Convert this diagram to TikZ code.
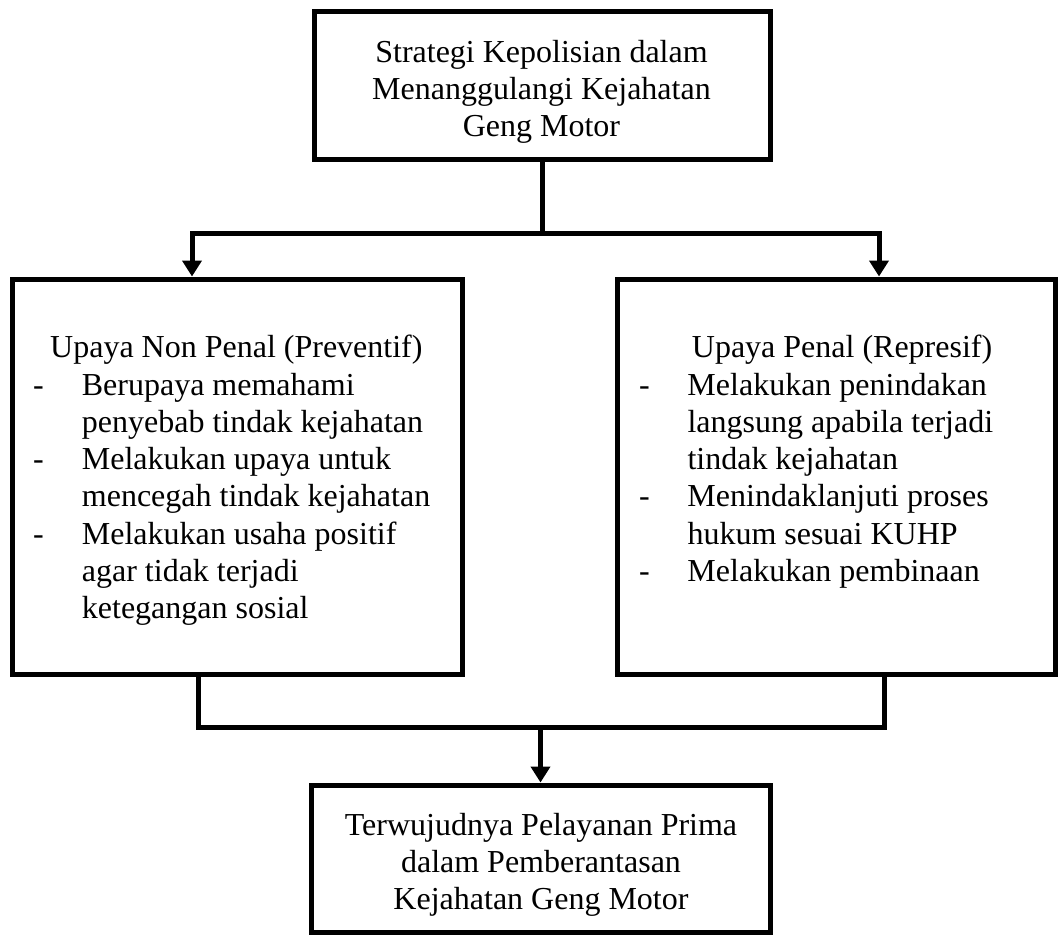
\documentclass[tikz,border=0pt]{standalone}
\usepackage{fontspec}
\setmainfont{Liberation Serif}
\usetikzlibrary{arrows.meta}
\newcommand\mystrut{\rule{0pt}{25pt}}
\begin{document}
\begin{tikzpicture}[x=1pt,y=-1pt,
  box/.style={draw=black,line width=5pt,rectangle,inner sep=0pt,fill=none},
  txt/.style={inner sep=0pt,font=\fontsize{32}{37.3}\selectfont},
  conn/.style={line width=5pt,draw=black},
  arr/.style={conn,-{Triangle[width=19pt,length=16pt]}},
  arrboth/.style={conn,{Triangle[width=19pt,length=16pt]}-{Triangle[width=19pt,length=16pt]}}]
\useasboundingbox (0,0) rectangle (1059,934);
\fill[white] (0,0) rectangle (1059,934);

% boxes
\node[box,minimum width=456pt,minimum height=147pt] (top) at (542,85.5) {};
\node[box,minimum width=450pt,minimum height=395pt] (left) at (237,476.5) {};
\node[box,minimum width=438pt,minimum height=395pt] (right) at (836,476.5) {};
\node[box,minimum width=459pt,minimum height=147pt] (bot) at (540.5,858.5) {};

% texts
\node[txt,align=center,anchor=north] (ttop) at (541.5,37) {\mystrut Strategi Kepolisian dalam\\Menanggulangi Kejahatan\\Geng Motor};
\node[txt,align=left,anchor=north west] (tleft) at (33,332.5) {\mystrut\hspace*{17pt}Upaya Non Penal (Preventif)\\
\makebox[48.7pt][l]{-}Berupaya memahami\\
\hspace*{48.7pt}penyebab tindak kejahatan\\
\makebox[48.7pt][l]{-}Melakukan upaya untuk\\
\hspace*{48.7pt}mencegah tindak kejahatan\\
\makebox[48.7pt][l]{-}Melakukan usaha positif\\
\hspace*{48.7pt}agar tidak terjadi\\
\hspace*{48.7pt}ketegangan sosial};
\node[txt,align=left,anchor=north west] (tright) at (639,332.5) {\mystrut\hspace*{52.7pt}Upaya Penal (Represif)\\
\makebox[48.3pt][l]{-}Melakukan penindakan\\
\hspace*{48.3pt}langsung apabila terjadi\\
\hspace*{48.3pt}tindak kejahatan\\
\makebox[48.3pt][l]{-}Menindaklanjuti proses\\
\hspace*{48.3pt}hukum sesuai KUHP\\
\makebox[48.3pt][l]{-}Melakukan pembinaan};
\node[txt,align=center,anchor=north] (tbot) at (541,810) {\mystrut Terwujudnya Pelayanan Prima\\dalam Pemberantasan\\Kejahatan Geng Motor};

% connectors
\coordinate (jl) at (192,233);
\coordinate (jr) at (879,233);
\draw[conn] (top.south) -- (top.south |- jl);
\draw[arrboth] (jl |- left.north) -- (jl) -- (jr) -- (jr |- right.north);

\coordinate (ml) at (198,727);
\coordinate (mr) at (884,727);
\draw[conn] (ml |- left.south) -- (ml) -- (mr) -- (mr |- right.south);
\draw[arr] (bot.north |- ml) -- (bot.north);
\end{tikzpicture}
\end{document}
